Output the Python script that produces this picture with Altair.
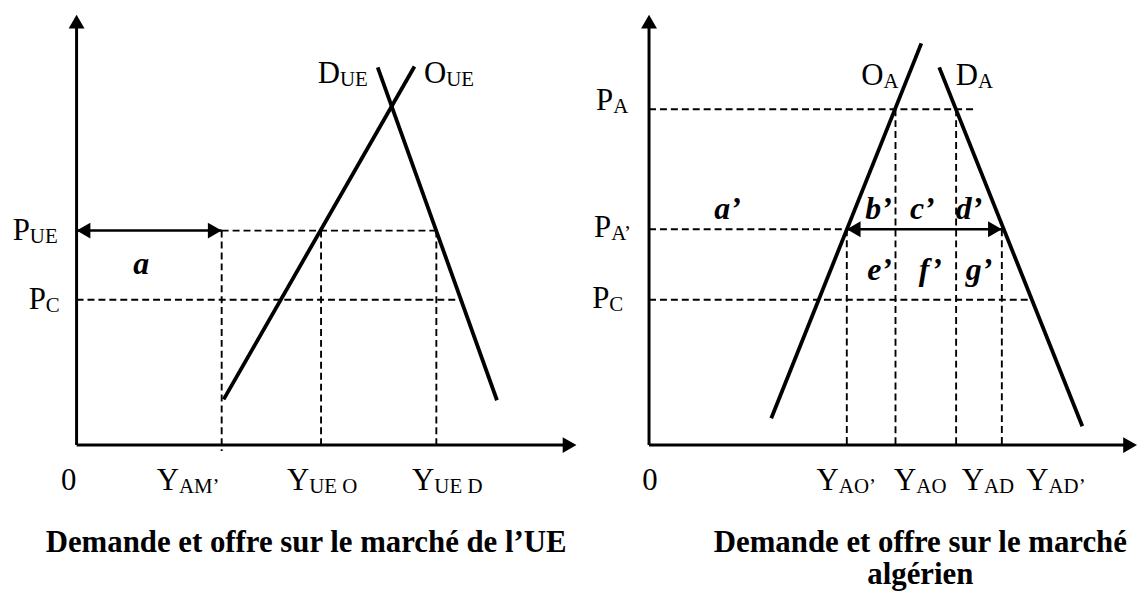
import altair as alt
import pandas as pd

# ---------------- Left panel: marché de l'UE (values in abstract units) -------------
UE_Q = {"Y_AM'": 29.2, "Y_UE_O": 49.2, "Y_UE_D": 72.4}
UE_P = {"P_UE": 50.2, "P_C": 34.0}
UE_SUPPLY_Q = [29.6, 68.0]
UE_SUPPLY_P = [10.7, 88.6]
UE_DEMAND_Q = [60.6, 84.6]
UE_DEMAND_P = [88.4, 10.5]
UE_PUE_END = 72.8
UE_PC_END = 77.4
UE_X_MAX = 100.6

# ---------------- Right panel: marché algérien -------------
DZ_Q = {"Y_AO'": 39.8, "Y_AO": 49.6, "Y_AD": 61.8, "Y_AD'": 71.0}
DZ_P = {"P_A": 78.6, "P_A'": 50.5, "P_C": 34.0}
DZ_SUPPLY_Q = [24.6, 54.8]
DZ_SUPPLY_P = [6.3, 94.0]
DZ_DEMAND_Q = [58.4, 87.2]
DZ_DEMAND_P = [88.4, 4.4]
DZ_PA_END = 66.0
DZ_PC_END = 77.1
DZ_X_MAX = 98.2

Y_MAX = 100.7

# ---------------- text annotations ----------------
UE_LAB_MAIN = ["P", "P", "Y", "Y", "Y", "D", "O"]
UE_LAB_SUB = ["UE", "C", "AM’", "UE O", "UE D", "UE", "UE"]
UE_LAB_X = [-9.4, -6.2, 20.6, 46.8, 72.0, 53.0, 74.4]
UE_LAB_Y = [47.9, 31.9, -10.5, -10.5, -10.5, 84.7, 84.7]

DZ_LAB_MAIN = ["P", "P", "P", "Y", "Y", "Y", "Y", "O", "D"]
DZ_LAB_SUB = ["A", "A’", "C", "AO’", "AO", "AD", "AD’", "A", "A"]
DZ_LAB_X = [-7.2, -7.6, -8.0, 38.2, 53.8, 67.4, 80.4, 47.2, 66.2]
DZ_LAB_Y = [78.4, 48.8, 32.1, -10.5, -10.5, -10.5, -10.5, 84.2, 84.2]

UE_AREA_TXT = ["a"]
UE_AREA_X = [13.0]
UE_AREA_Y = [40.0]
DZ_AREA_TXT = ["a’", "b’", "c’", "d’", "e’", "f’", "g’"]
DZ_AREA_X = [15.8, 46.2, 55.0, 64.4, 46.4, 56.6, 66.4]
DZ_AREA_Y = [53.0, 53.0, 53.0, 53.0, 38.6, 38.6, 38.6]

UE_TITLE = ["Demande et offre sur le marché de l’UE"]
UE_TITLE_X = [46.2]
UE_TITLE_Y = [-25.1]
DZ_TITLE = ["Demande et offre sur le marché", "algérien"]
DZ_TITLE_X = [54.6, 54.6]
DZ_TITLE_Y = [-25.1, -32.6]

# ---------------- geometry of the panels ----------------
H = 588
Y_TOP = 438 / 4.3
Y_DOM = [Y_TOP - H / 4.3, Y_TOP]
UE_W, UE_XDOM = 592, [-13.8, 104.6]
DZ_W, DZ_XDOM = 544, [-10.6, 98.2]
HEAD = 256
HX, HY = 1.39, 1.6  # half length of arrow heads in units

SERIF = "Liberation Serif"
MAIN_FS, SUB_FS, AREA_FS, TITLE_FS = 31, 21, 32, 31


def scales(xdom):
    return (alt.Scale(domain=xdom, nice=False, zero=False),
            alt.Scale(domain=Y_DOM, nice=False, zero=False))


def panel(xdom, width, solid, dashed, axes, arrows, heads, lab, zero, area, title):
    xs, ys = scales(xdom)
    X = lambda: alt.X("x:Q", scale=xs, axis=None)
    Y = lambda: alt.Y("y:Q", scale=ys, axis=None)

    def rules(df, w, dash=None):
        kw = dict(color="black", strokeWidth=w, strokeCap="butt")
        if dash:
            kw["strokeDash"] = dash
        return alt.Chart(df).mark_rule(**kw).encode(
            x=X(), y=Y(), x2="x2:Q", y2="y2:Q")

    def text(df, field, **kw):
        return alt.Chart(df).mark_text(font=SERIF, baseline="alphabetic",
                                       color="black", **kw).encode(
            x=X(), y=Y(), text=f"{field}:N")

    layers = [
        rules(dashed, 1.9, [7, 4]),
        rules(solid, 3.8),
        rules(axes, 3),
        rules(arrows, 2.6),
        alt.Chart(heads).mark_point(filled=True, color="black", opacity=1,
                                    size=HEAD, strokeWidth=0).encode(
            x=X(), y=Y(), shape=alt.Shape("shape:N", scale=None)),
        text(lab, "main", fontSize=MAIN_FS, align="right"),
        text(lab, "sub", fontSize=SUB_FS, align="left", dy=3),
        text(zero, "t", fontSize=MAIN_FS, align="center"),
        text(area, "t", fontSize=AREA_FS, fontStyle="italic", fontWeight="bold",
             align="center"),
        text(title, "t", fontSize=TITLE_FS, fontWeight="bold", align="center"),
    ]
    return alt.layer(*layers).properties(width=width, height=H)


def seg(rows):
    return pd.DataFrame(rows, columns=["x", "y", "x2", "y2"])


# ---- left panel tables ----
qa, qo, qd = UE_Q["Y_AM'"], UE_Q["Y_UE_O"], UE_Q["Y_UE_D"]
pue, pc = UE_P["P_UE"], UE_P["P_C"]
ue_solid = seg([
    [UE_SUPPLY_Q[0], UE_SUPPLY_P[0], UE_SUPPLY_Q[1], UE_SUPPLY_P[1]],
    [UE_DEMAND_Q[0], UE_DEMAND_P[0], UE_DEMAND_Q[1], UE_DEMAND_P[1]],
])
ue_dashed = seg([
    [qa, pue, UE_PUE_END, pue],
    [0, pc, UE_PC_END, pc],
    [qa, pue, qa, -1.4],
    [qo, pue, qo, 0],
    [qd, pue, qd, 0],
])
ue_axes = seg([[0, 0, UE_X_MAX - HX, 0], [0, 0, 0, Y_MAX - HY]])
ue_arrows = seg([[0, pue, qa, pue]])
ue_heads = pd.DataFrame({
    "x": [0, UE_X_MAX - HX, HX, qa - HX],
    "y": [Y_MAX - HY, 0, pue, pue],
    "shape": ["triangle-up", "triangle-right", "triangle-left", "triangle-right"],
})
ue_lab = pd.DataFrame({"x": UE_LAB_X, "y": UE_LAB_Y, "main": UE_LAB_MAIN, "sub": UE_LAB_SUB})
ue_zero = pd.DataFrame({"x": [-1.6], "y": [-10.5], "t": ["0"]})
ue_area = pd.DataFrame({"x": UE_AREA_X, "y": UE_AREA_Y, "t": UE_AREA_TXT})
ue_title = pd.DataFrame({"x": UE_TITLE_X, "y": UE_TITLE_Y, "t": UE_TITLE})

# ---- right panel tables ----
q1, q2, q3, q4 = DZ_Q["Y_AO'"], DZ_Q["Y_AO"], DZ_Q["Y_AD"], DZ_Q["Y_AD'"]
pa, pa2, pc2 = DZ_P["P_A"], DZ_P["P_A'"], DZ_P["P_C"]
dz_solid = seg([
    [DZ_SUPPLY_Q[0], DZ_SUPPLY_P[0], DZ_SUPPLY_Q[1], DZ_SUPPLY_P[1]],
    [DZ_DEMAND_Q[0], DZ_DEMAND_P[0], DZ_DEMAND_Q[1], DZ_DEMAND_P[1]],
])
dz_dashed = seg([
    [0, pa, DZ_PA_END, pa],
    [0, pa2, q1, pa2],
    [0, pc2, DZ_PC_END, pc2],
    [q1, pa2, q1, 0],
    [q2, pa, q2, 0],
    [q3, pa, q3, 0],
    [q4, pa2, q4, 0],
])
dz_axes = seg([[0, 0, DZ_X_MAX - HX, 0], [0, 0, 0, Y_MAX - HY]])
dz_arrows = seg([[q1, pa2, q4, pa2]])
dz_heads = pd.DataFrame({
    "x": [0, DZ_X_MAX - HX, q1 + HX, q4 - HX],
    "y": [Y_MAX - HY, 0, pa2, pa2],
    "shape": ["triangle-up", "triangle-right", "triangle-left", "triangle-right"],
})
dz_lab = pd.DataFrame({"x": DZ_LAB_X, "y": DZ_LAB_Y, "main": DZ_LAB_MAIN, "sub": DZ_LAB_SUB})
dz_zero = pd.DataFrame({"x": [0.2], "y": [-10.5], "t": ["0"]})
dz_area = pd.DataFrame({"x": DZ_AREA_X, "y": DZ_AREA_Y, "t": DZ_AREA_TXT})
dz_title = pd.DataFrame({"x": DZ_TITLE_X, "y": DZ_TITLE_Y, "t": DZ_TITLE})

left = panel(UE_XDOM, UE_W, ue_solid, ue_dashed, ue_axes, ue_arrows, ue_heads,
             ue_lab, ue_zero, ue_area, ue_title)
right = panel(DZ_XDOM, DZ_W, dz_solid, dz_dashed, dz_axes, dz_arrows, dz_heads,
              dz_lab, dz_zero, dz_area, dz_title)

chart = alt.hconcat(left, right, spacing=0).properties(
    padding=0, bounds="flush", background="white"
).configure_view(stroke=None)

chart.save("out.html", embed_options={"renderer": "svg", "actions": False})
